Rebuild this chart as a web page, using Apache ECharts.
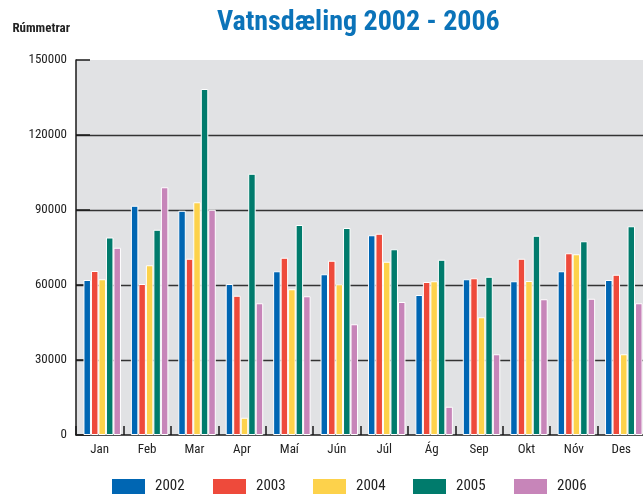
<!DOCTYPE html>
<html>
<head>
<meta charset="utf-8">
<script src="https://cdn.jsdelivr.net/npm/echarts@6/dist/echarts.min.js"></script>
<style>
html,body{margin:0;padding:0;background:#fff;}
#chart{width:643px;height:496px;}
</style>
</head>
<body>
<div id="chart"></div>
<script>
const months = ['Jan','Feb','Mar','Apr','Maí','Jún','Júl','Ág','Sep','Okt','Nóv','Des'];
const years = ['2002','2003','2004','2005','2006'];
const v2002 = [62000, 91700, 89700, 60400, 65500, 64300, 79900, 56000, 62300, 61500, 65500, 62000];
const v2003 = [65600, 60400, 70500, 55700, 70900, 69700, 80500, 61200, 62700, 70500, 72700, 64100];
const v2004 = [62300, 67900, 93100, 6900, 58300, 60300, 69300, 61500, 47100, 61600, 72300, 32300];
const v2005 = [79000, 82100, 138400, 104500, 84000, 82800, 74300, 70100, 63300, 79700, 77500, 83500];
const v2006 = [74900, 99100, 90100, 52700, 55500, 44300, 53200, 11300, 32300, 54300, 54500, 52700];
const yTicks = [0, 30000, 60000, 90000, 120000, 150000];
const colors = ['#0066b3', '#ee4a3b', '#fdd24b', '#007b6c', '#c785b9'];
const seriesValues = [v2002, v2003, v2004, v2005, v2006];

const FONT = "'Roboto Condensed', 'DejaVu Sans Condensed', sans-serif";
const chart = echarts.init(document.getElementById('chart'), null, {renderer: 'canvas'});

const series = [{
  name: '_spacer', type: 'bar', barWidth: 5, barGap: 0,
  data: months.map(() => null), silent: true
}];
years.forEach((y, i) => {
  series.push({
    name: y, type: 'bar', barWidth: 7.5, barGap: 0,
    data: seriesValues[i],
    itemStyle: {color: colors[i], borderColor: '#ffffff', borderWidth: 1}
  });
});

const legendLefts = [110, 211, 311, 411, 512];
const legends = years.map((y, i) => ({
  data: [y], left: legendLefts[i], top: 477, itemWidth: 35, itemHeight: 17,
  icon: 'rect', padding: 0, itemGap: 0, selectedMode: false,
  textStyle: {fontFamily: FONT, fontSize: 15, color: '#222', padding: [0, 0, 0, 4]}
}));

chart.setOption({
  animation: false,
  color: colors,
  title: {
    text: 'Vatnsdæling 2002 - 2006', left: 212, top: 4,
    textStyle: {fontFamily: FONT, fontSize: 28, fontWeight: 'bold', color: '#0b73b9'}
  },
  legend: legends,
  grid: {
    left: 76, top: 60, right: -2, bottom: 61, containLabel: false, outerBoundsMode: 'none',
    show: true, backgroundColor: '#e1e2e4', borderWidth: 0
  },
  xAxis: {
    type: 'category', data: months,
    axisLine: {show: true, lineStyle: {color: '#1a1a1a', width: 1.5}},
    axisTick: {show: true, inside: true, length: 9, lineStyle: {color: '#1a1a1a', width: 1.5}},
    axisLabel: {fontFamily: FONT, fontSize: 13, color: '#222', margin: 8},
    splitLine: {show: false}
  },
  yAxis: {
    type: 'value', min: yTicks[0], max: yTicks[yTicks.length - 1], interval: 30000,
    name: 'Rúmmetrar', nameLocation: 'end', nameGap: 31,
    nameTextStyle: {fontFamily: FONT, fontSize: 13, fontWeight: 'bold', color: '#222',
      align: 'right', verticalAlign: 'middle', padding: [0, 6, 0, 0]},
    axisLine: {show: true, lineStyle: {color: '#1a1a1a', width: 1.5}},
    axisTick: {show: true, inside: true, length: 14, lineStyle: {color: '#1a1a1a', width: 1.5}},
    axisLabel: {fontFamily: FONT, fontSize: 13, color: '#222', margin: 9,
      formatter: (v) => String(v)},
    splitLine: {show: true, lineStyle: {color: ['rgba(0,0,0,0)', '#333333', '#333333', '#333333', '#333333', 'rgba(0,0,0,0)'], width: 1.3}}
  },
  series: series
});
</script>
</body>
</html>
